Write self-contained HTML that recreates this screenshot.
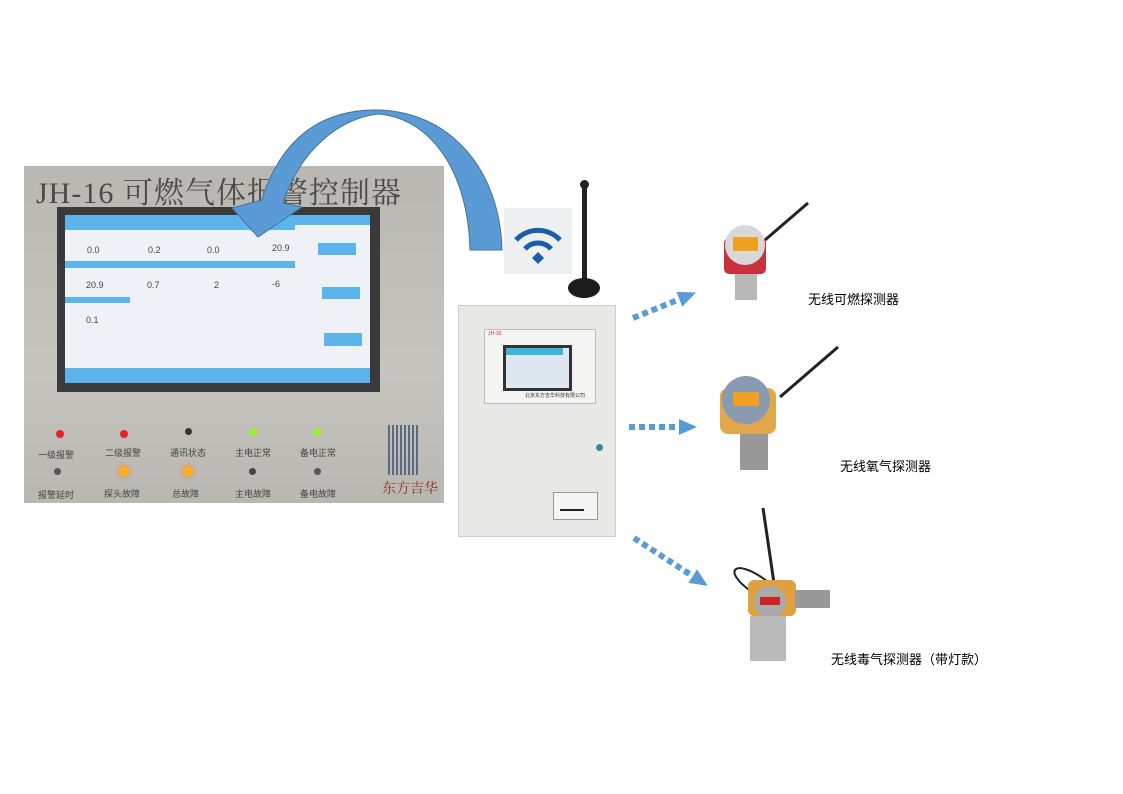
<!DOCTYPE html>
<html><head><meta charset="utf-8"><style>
body{margin:0;width:1123px;height:794px;background:#fff;position:relative;overflow:hidden;font-family:"Liberation Sans","Noto Sans CJK SC",sans-serif}
.a{position:absolute}
.t{font-size:9px;color:#444;position:absolute}
</style></head><body>
<!-- left photo -->
<div class="a" style="left:24px;top:166px;width:420px;height:337px;background:linear-gradient(#b9b7b1,#c6c4be 60%,#b9b7b1)"></div>
<div class="a" style="left:36px;top:168px;font-family:'Liberation Serif','Noto Serif CJK SC',serif;font-size:30px;color:#4a4a4a;letter-spacing:1px">JH-16 可燃气体报警控制器</div>
<div class="a" style="left:57px;top:207px;width:323px;height:185px;background:#3a3a3a"></div>
<div class="a" style="left:65px;top:215px;width:305px;height:168px;background:#eef2f6"></div>
<div class="a" style="left:65px;top:215px;width:305px;height:10px;background:#5db4ec"></div>
<div class="a" style="left:65px;top:225px;width:230px;height:5px;background:#5db4ec"></div>
<div class="a" style="left:65px;top:261px;width:230px;height:7px;background:#5db4ec"></div>
<div class="a" style="left:65px;top:297px;width:65px;height:6px;background:#5db4ec"></div>
<div class="a" style="left:65px;top:368px;width:305px;height:15px;background:#5db4ec"></div>
<div class="a" style="left:318px;top:243px;width:38px;height:12px;background:#5db4ec"></div>
<div class="a" style="left:322px;top:287px;width:38px;height:12px;background:#5db4ec"></div>
<div class="a" style="left:324px;top:333px;width:38px;height:13px;background:#5db4ec"></div>
<div class="t" style="left:87px;top:245px">0.0</div><div class="t" style="left:148px;top:245px">0.2</div><div class="t" style="left:207px;top:245px">0.0</div><div class="t" style="left:272px;top:243px">20.9</div>
<div class="t" style="left:86px;top:280px">20.9</div><div class="t" style="left:147px;top:280px">0.7</div><div class="t" style="left:214px;top:280px">2</div><div class="t" style="left:272px;top:279px">-6</div>
<div class="t" style="left:86px;top:315px">0.1</div>
<div class="a" style="left:56px;top:430px;width:8px;height:8px;border-radius:50%;background:#e8202a"></div>
<div class="a" style="left:120px;top:430px;width:8px;height:8px;border-radius:50%;background:#e8202a"></div>
<div class="a" style="left:185px;top:428px;width:7px;height:7px;border-radius:50%;background:#333"></div>
<div class="a" style="left:249px;top:428px;width:8px;height:8px;border-radius:50%;background:#9af03a"></div>
<div class="a" style="left:313px;top:428px;width:8px;height:8px;border-radius:50%;background:#9af03a"></div>
<div class="a" style="left:54px;top:468px;width:7px;height:7px;border-radius:50%;background:#555"></div>
<div class="a" style="left:119px;top:466px;width:10px;height:10px;border-radius:50%;background:#ffb020;box-shadow:0 0 5px #ff8000"></div>
<div class="a" style="left:183px;top:466px;width:10px;height:10px;border-radius:50%;background:#ffb020;box-shadow:0 0 5px #ff8000"></div>
<div class="a" style="left:249px;top:468px;width:7px;height:7px;border-radius:50%;background:#444"></div>
<div class="a" style="left:314px;top:468px;width:7px;height:7px;border-radius:50%;background:#555"></div>
<div class="t" style="left:38px;top:448px">一级报警</div><div class="t" style="left:105px;top:446px">二级报警</div><div class="t" style="left:170px;top:446px">通讯状态</div><div class="t" style="left:235px;top:446px">主电正常</div><div class="t" style="left:300px;top:446px">备电正常</div>
<div class="t" style="left:38px;top:488px">报警延时</div><div class="t" style="left:104px;top:487px">探头故障</div><div class="t" style="left:172px;top:487px">总故障</div><div class="t" style="left:235px;top:487px">主电故障</div><div class="t" style="left:300px;top:487px">备电故障</div>
<div class="a" style="left:388px;top:425px;width:30px;height:50px;background:repeating-linear-gradient(90deg,#5a6a80 0 2px,transparent 2px 4px)"></div>
<div class="a" style="left:382px;top:478px;font-size:14px;color:#8a3020;font-family:'Noto Serif CJK SC',serif">东方吉华</div>
<!-- arrow -->
<svg class="a" style="left:0;top:0" width="1123" height="794">
<path d="M502,250 C500,170 450,110 375,110 C320,110 280,140 262,200 L232,208 L258,237 L302,207 L283,203 C300,150 340,118 378,114 C430,118 468,170 470,250 Z" fill="#5b9bd5" stroke="#41719c" stroke-width="1"/>
<g fill="#5b9bd5">
<g transform="translate(633,318) rotate(-22)"><rect x="0" y="-3" width="6" height="6"/><rect x="10" y="-3" width="6" height="6"/><rect x="20" y="-3" width="6" height="6"/><rect x="30" y="-3" width="6" height="6"/><rect x="40" y="-3" width="6" height="6"/><polygon points="50,-8 68,0 50,8"/></g>
<g transform="translate(629,427)"><rect x="0" y="-3" width="6" height="6"/><rect x="10" y="-3" width="6" height="6"/><rect x="20" y="-3" width="6" height="6"/><rect x="30" y="-3" width="6" height="6"/><rect x="40" y="-3" width="6" height="6"/><polygon points="50,-8 68,0 50,8"/></g>
<g transform="translate(634,538) rotate(33)"><rect x="0" y="-3" width="6" height="6"/><rect x="10" y="-3" width="6" height="6"/><rect x="20" y="-3" width="6" height="6"/><rect x="30" y="-3" width="6" height="6"/><rect x="40" y="-3" width="6" height="6"/><rect x="50" y="-3" width="6" height="6"/><rect x="60" y="-3" width="6" height="6"/><polygon points="70,-8 88,0 70,8"/></g>
</g>
<!-- detectors -->
<line x1="765" y1="240" x2="808" y2="203" stroke="#222" stroke-width="3"/>
<rect x="724" y="238" width="42" height="36" rx="5" fill="#c8323a"/>
<circle cx="745" cy="245" r="20" fill="#d8d8d8"/><rect x="733" y="237" width="25" height="14" fill="#f0a020"/>
<rect x="735" y="274" width="22" height="26" fill="#b8b8b8"/>
<line x1="780" y1="397" x2="838" y2="347" stroke="#222" stroke-width="3"/>
<rect x="720" y="388" width="56" height="46" rx="8" fill="#e0a84a"/>
<circle cx="746" cy="400" r="24" fill="#8a9ab0"/><rect x="733" y="392" width="26" height="14" fill="#f0a020"/>
<rect x="740" y="434" width="28" height="36" fill="#999"/>
<line x1="763" y1="508" x2="775" y2="590" stroke="#222" stroke-width="3"/>
<path d="M752,592 C720,570 735,555 772,585" fill="none" stroke="#222" stroke-width="2"/>
<rect x="748" y="580" width="48" height="36" rx="6" fill="#e0a040"/>
<circle cx="770" cy="602" r="16" fill="#aaa"/><rect x="760" y="597" width="20" height="8" fill="#c22"/>
<rect x="795" y="590" width="35" height="18" fill="#999"/>
<rect x="750" y="616" width="36" height="45" fill="#bbb"/>
</svg>
<!-- wifi -->
<div class="a" style="left:504px;top:208px;width:68px;height:66px;background:#eeeff0"></div>
<svg class="a" style="left:504px;top:208px" width="68" height="66"><g fill="none" stroke="#1a5ea8" stroke-width="5"><path d="M12,32 A30,30 0 0 1 56,32"/><path d="M21,41 A17,17 0 0 1 47,41"/></g><polygon points="28,50 34,44 40,50 34,56" fill="#1a5ea8"/></svg>
<!-- antenna -->
<div class="a" style="left:582px;top:185px;width:5px;height:100px;background:#222"></div>
<div class="a" style="left:580px;top:180px;width:9px;height:9px;border-radius:50%;background:#222"></div>
<div class="a" style="left:568px;top:278px;width:32px;height:20px;border-radius:50%;background:#1c1c1c"></div>
<!-- cabinet -->
<div class="a" style="left:458px;top:305px;width:156px;height:230px;background:#e8e8e6;border:1px solid #ccc"></div>
<div class="a" style="left:484px;top:329px;width:110px;height:73px;background:#f4f4f2;border:1px solid #bbb"></div>
<div class="a" style="left:503px;top:345px;width:63px;height:40px;background:#dfe8f0;border:3px solid #333"></div>
<div class="a" style="left:506px;top:348px;width:57px;height:7px;background:#3fb6d8"></div>
<div class="a" style="left:488px;top:331px;font-size:5px;color:#c33">JH-16</div>
<div class="a" style="left:525px;top:392px;font-size:5px;color:#333">北京东方吉华科技有限公司</div>
<div class="a" style="left:596px;top:444px;width:7px;height:7px;border-radius:50%;background:#3a8a9a"></div>
<div class="a" style="left:553px;top:492px;width:43px;height:26px;background:#f5f5f5;border:1px solid #999"></div>
<div class="a" style="left:560px;top:509px;width:24px;height:2px;background:#222"></div>
<div class="a" style="left:808px;top:289px;font-size:13px;color:#000">无线可燃探测器</div>
<div class="a" style="left:840px;top:456px;font-size:13px;color:#000">无线氧气探测器</div>
<div class="a" style="left:831px;top:649px;font-size:13px;color:#000">无线毒气探测器（带灯款）</div>
</body></html>
